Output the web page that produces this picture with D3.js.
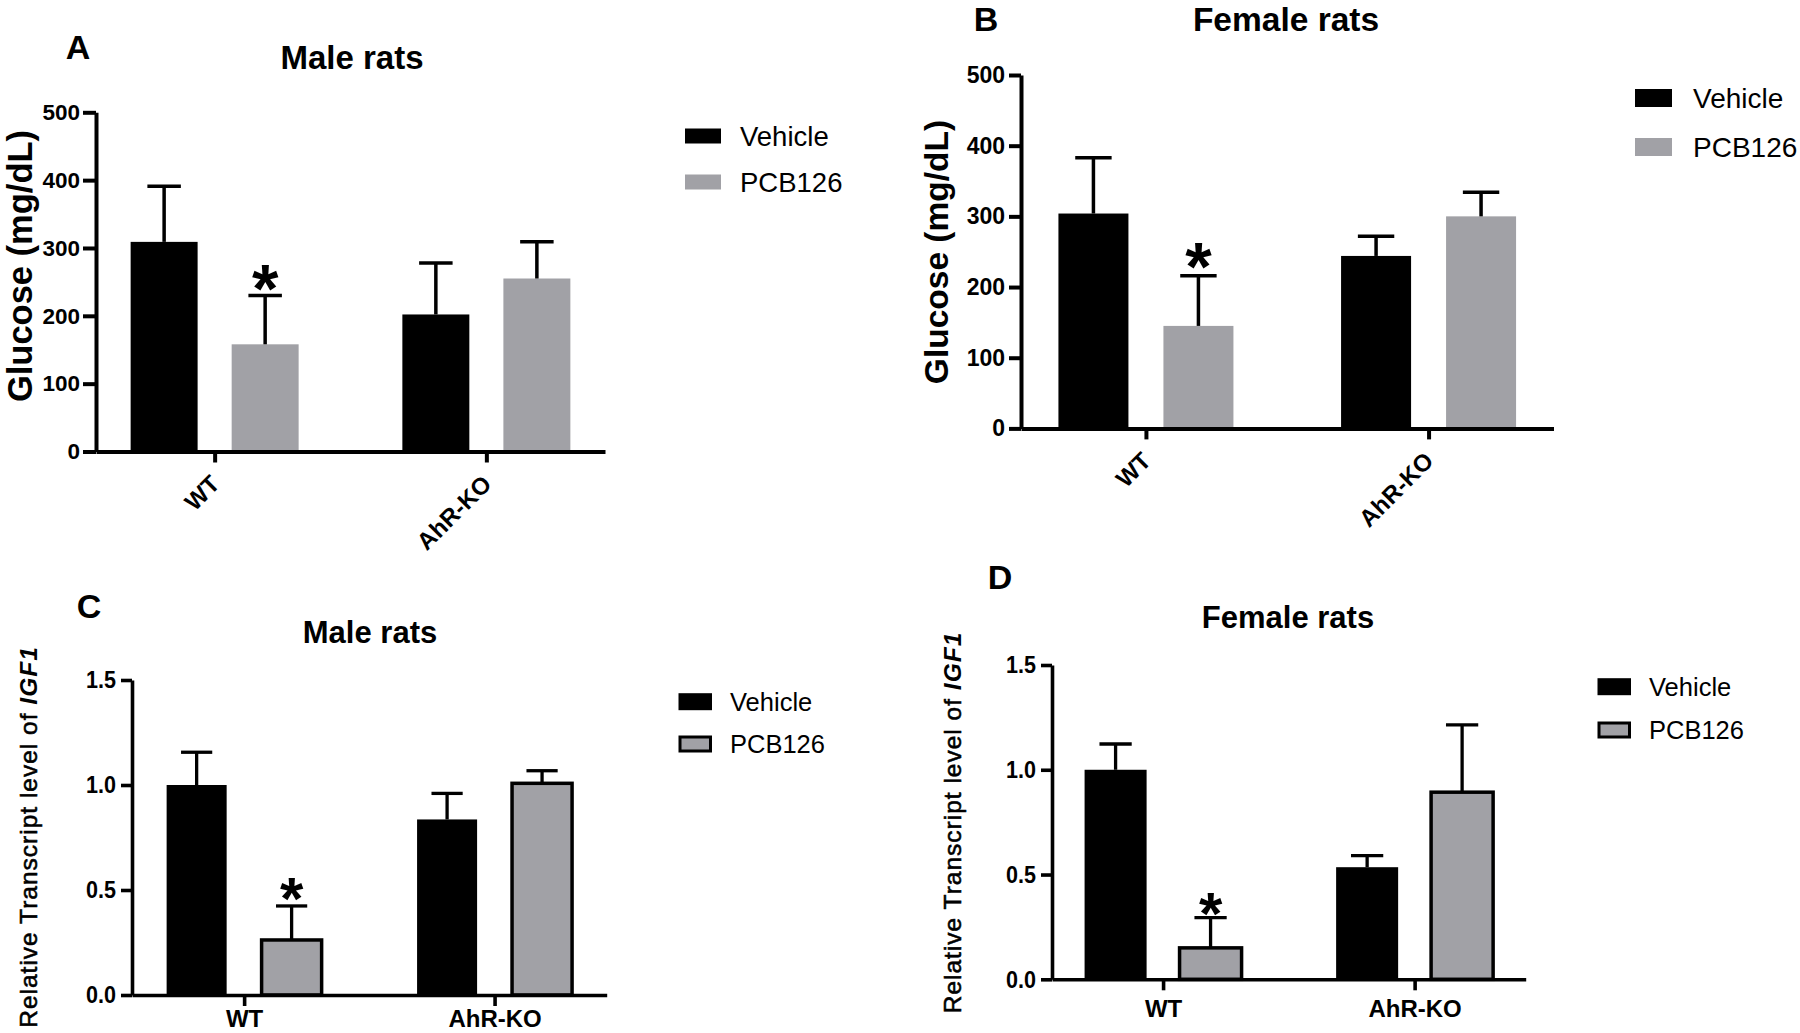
<!DOCTYPE html>
<html><head><meta charset="utf-8">
<script src="https://cdnjs.cloudflare.com/ajax/libs/d3/7.8.5/d3.min.js"></script>
<style>body{margin:0;background:#fff}svg{display:block}text{font-family:"Liberation Sans",Arial,sans-serif;fill:#000}</style>
</head><body><svg id="c" width="1800" height="1033"></svg>
<script>
// ---------- data ----------
const groups = ["WT", "AhR-KO"];
const series = ["Vehicle", "PCB126"];
const glucoseTicks = [0, 100, 200, 300, 400, 500];
const igf1Ticks = [0, 0.5, 1.0, 1.5];

// A: glucose, male
const maleGlucoseVehicle = [309, 202];
const maleGlucoseVehicleSD = [82, 76];
const maleGlucosePCB = [158, 255];
const maleGlucosePCBSD = [72, 54];
// B: glucose, female
const femaleGlucoseVehicle = [304, 244];
const femaleGlucoseVehicleSD = [79, 28];
const femaleGlucosePCB = [145, 300];
const femaleGlucosePCBSD = [71, 34];
// C: IGF1, male
const maleIGF1Vehicle = [1.0, 0.836];
const maleIGF1VehicleSD = [0.156, 0.124];
const maleIGF1PCB = [0.262, 1.008];
const maleIGF1PCBSD = [0.162, 0.06];
// D: IGF1, female
const femaleIGF1Vehicle = [1.0, 0.535];
const femaleIGF1VehicleSD = [0.123, 0.055];
const femaleIGF1PCB = [0.15, 0.893];
const femaleIGF1PCBSD = [0.144, 0.321];

const GRAY = "#a1a1a6";
const FONT = '"Liberation Sans",Arial,sans-serif';
const svg = d3.select("#c");

function drawPanel(cfg) {
  const g = svg.append("g");
  const y = d3.scaleLinear().domain([cfg.ticks[0], cfg.ticks[cfg.ticks.length - 1]]).range([cfg.y0, cfg.yTop]);
  const x0 = d3.scalePoint().domain(groups).range([cfg.axisX, cfg.xEnd]).padding(cfg.pad);
  const x1 = d3.scaleBand().domain(series).range([-cfg.barHalf, cfg.barHalf]).paddingInner(cfg.pi).paddingOuter(0);
  const bw = x1.bandwidth();

  // panel letter & title
  g.append("text").attr("x", cfg.letterPos[0]).attr("y", cfg.letterPos[1]).attr("text-anchor", "middle")
    .attr("font-weight", "bold").attr("font-size", cfg.letterSize).text(cfg.letter);
  g.append("text").attr("x", cfg.titlePos[0]).attr("y", cfg.titlePos[1]).attr("text-anchor", "middle")
    .attr("font-weight", "bold").attr("font-size", cfg.titleSize).text(cfg.title);

  // bars
  const rows = [];
  groups.forEach((grp, i) => {
    series.forEach((s, j) => {
      rows.push({grp, s, v: cfg.values[j][i], sd: cfg.sds[j][i]});
    });
  });
  g.selectAll("rect.bar").data(rows).enter().append("rect").attr("class", "bar")
    .attr("x", d => x0(d.grp) + x1(d.s))
    .attr("y", d => y(d.v))
    .attr("width", bw)
    .attr("height", d => cfg.y0 - y(d.v))
    .attr("fill", d => d.s === "Vehicle" ? "#000" : GRAY)
    .attr("stroke", d => (d.s === "PCB126" && cfg.outline) ? "#000" : "none")
    .attr("stroke-width", cfg.outline ? cfg.outlineW : 0);

  // error bars (upper only)
  const capHalf = bw * cfg.capFrac;
  rows.forEach(d => {
    const cx = x0(d.grp) + x1(d.s) + bw / 2;
    g.append("line").attr("x1", cx).attr("x2", cx).attr("y1", y(d.v)).attr("y2", y(d.v + d.sd))
      .attr("stroke", "#000").attr("stroke-width", cfg.errW);
    g.append("line").attr("x1", cx - capHalf).attr("x2", cx + capHalf).attr("y1", y(d.v + d.sd)).attr("y2", y(d.v + d.sd))
      .attr("stroke", "#000").attr("stroke-width", cfg.errW);
  });

  // significance asterisk on WT PCB126
  const ax = x0("WT") + x1("PCB126") + bw / 2;
  const ay = y(cfg.values[1][0] + cfg.sds[1][0]) - cfg.starGap;
  g.append("text").attr("x", ax).attr("y", ay + cfg.starSize * 0.55).attr("text-anchor", "middle")
    .attr("font-weight", "bold").attr("font-size", cfg.starSize).text("*");

  // y axis
  const ya = g.append("g").attr("transform", `translate(${cfg.axisX},0)`)
    .call(d3.axisLeft(y).tickValues(cfg.ticks).tickFormat(cfg.fmt).tickSize(cfg.tickLen).tickSizeOuter(0).tickPadding(cfg.tickPad));
  ya.select(".domain").attr("stroke-width", cfg.axisW).attr("stroke", "#000");
  ya.selectAll(".tick line").attr("stroke-width", cfg.axisW).attr("stroke", "#000");
  ya.selectAll(".tick text").attr("font-size", cfg.tickFont).attr("font-weight", "bold")
    .attr("font-family", FONT).attr("fill", "#000")
    .attr("x", -(cfg.tickLen + cfg.tickPad) / cfg.tickSX)
    .attr("transform", `scale(${cfg.tickSX},1)`);

  // x axis
  const xa = g.append("g").attr("transform", `translate(0,${cfg.y0})`)
    .call(d3.axisBottom(x0).tickSize(cfg.xTickLen).tickSizeOuter(0).tickPadding(8));
  xa.select(".domain").attr("stroke-width", cfg.axisW).attr("stroke", "#000");
  xa.selectAll(".tick line").attr("stroke-width", cfg.axisW).attr("stroke", "#000");
  xa.selectAll(".tick text").attr("font-size", cfg.xFont).attr("font-weight", "bold")
    .attr("font-family", FONT).attr("fill", "#000");
  if (cfg.rotated) {
    xa.selectAll(".tick text").attr("text-anchor", "end").attr("dy", null).attr("y", null)
      .attr("transform", `translate(6,${cfg.rotDy}) rotate(-45)`);
  } else {
    xa.selectAll(".tick text").attr("dy", null).attr("y", cfg.xLabelDy);
  }

  // y label
  const yl = g.append("text").attr("transform", `translate(${cfg.yLabelPos[0]},${cfg.yLabelPos[1]}) rotate(-90)`)
    .attr("text-anchor", "middle").attr("dy", "0.35em").attr("font-size", cfg.yLabelSize);
  if (cfg.igf) {
    yl.attr("letter-spacing", cfg.yLabelSpacing);
    yl.append("tspan").attr("stroke", "#000").attr("stroke-width", 0.55).text("Relative Transcript level of ");
    yl.append("tspan").attr("font-weight", "bold").attr("font-style", "italic").text("IGF1");
  } else {
    yl.attr("font-weight", "bold").text("Glucose (mg/dL)");
  }

  // legend
  series.forEach((s, j) => {
    const cy = cfg.legY[j];
    const r = g.append("rect").attr("x", cfg.legX).attr("y", cy - cfg.legH / 2).attr("width", cfg.legW).attr("height", cfg.legH)
      .attr("fill", s === "Vehicle" ? "#000" : GRAY);
    if (s === "PCB126" && cfg.outline) {
      r.attr("stroke", "#000").attr("stroke-width", 3)
        .attr("x", cfg.legX + 1.5).attr("y", cy - cfg.legH / 2 + 1.5).attr("width", cfg.legW - 3).attr("height", cfg.legH - 3);
    }
    g.append("text").attr("x", cfg.legTextX).attr("y", cy).attr("dy", "0.35em").attr("font-size", cfg.legFont).text(s);
  });
}

const fmtInt = d3.format("d");
const fmt1 = d3.format(".1f");

drawPanel({
  letter: "A", letterPos: [78, 58.5], letterSize: 34,
  title: "Male rats", titlePos: [352, 69], titleSize: 33,
  ticks: glucoseTicks, fmt: fmtInt, y0: 451.5, yTop: 112.3, axisX: 96, xEnd: 605, pad: 0.4366,
  barHalf: 84, pi: 0.337, values: [maleGlucoseVehicle, maleGlucosePCB], sds: [maleGlucoseVehicleSD, maleGlucosePCBSD],
  outline: false, outlineW: 0, capFrac: 0.25, errW: 3.5, starGap: 20.5, starSize: 68,
  tickLen: 13, xTickLen: 11, tickPad: 3, tickSX: 1, axisW: 4, tickFont: 22.5, xFont: 24, rotated: true, rotDy: 34,
  yLabelPos: [19.5, 266], yLabelSize: 34.5, igf: false,
  legX: 685, legW: 36, legH: 15, legY: [136, 182], legTextX: 740, legFont: 27.5
});

drawPanel({
  letter: "B", letterPos: [986, 31], letterSize: 34,
  title: "Female rats", titlePos: [1286, 30.5], titleSize: 33.5,
  ticks: glucoseTicks, fmt: fmtInt, y0: 428.4, yTop: 75, axisX: 1021, xEnd: 1553.5, pad: 0.442,
  barHalf: 87.5, pi: 0.3333, values: [femaleGlucoseVehicle, femaleGlucosePCB], sds: [femaleGlucoseVehicleSD, femaleGlucosePCBSD],
  outline: false, outlineW: 0, capFrac: 0.26, errW: 3.5, starGap: 23, starSize: 68,
  tickLen: 12, xTickLen: 11, tickPad: 4, tickSX: 1, axisW: 4, tickFont: 23, xFont: 24, rotated: true, rotDy: 34,
  yLabelPos: [936, 252], yLabelSize: 33.5, igf: false,
  legX: 1635, legW: 37, legH: 18, legY: [98, 147], legTextX: 1693, legFont: 28
});

drawPanel({
  letter: "C", letterPos: [89, 617.6], letterSize: 34,
  title: "Male rats", titlePos: [370, 643], titleSize: 31,
  ticks: igf1Ticks, fmt: fmt1, y0: 995, yTop: 680, axisX: 132, xEnd: 606.7, pad: 0.4477,
  barHalf: 77.5, pi: 0.368, values: [maleIGF1Vehicle, maleIGF1PCB], sds: [maleIGF1VehicleSD, maleIGF1PCBSD],
  outline: true, outlineW: 3.5, capFrac: 0.26, errW: 3.3, starGap: 20, starSize: 60,
  tickLen: 11, xTickLen: 11, tickPad: 5, tickSX: 0.88, axisW: 3.6, tickFont: 24.5, xFont: 24, rotated: false, xLabelDy: 32,
  yLabelPos: [28, 837], yLabelSize: 24.5, yLabelSpacing: 1, igf: true,
  legX: 678.5, legW: 33.5, legH: 17, legY: [701.7, 744], legTextX: 730, legFont: 25.5
});

drawPanel({
  letter: "D", letterPos: [1000, 589], letterSize: 34,
  title: "Female rats", titlePos: [1288, 628], titleSize: 31,
  ticks: igf1Ticks, fmt: fmt1, y0: 979.3, yTop: 665, axisX: 1052, xEnd: 1525.7, pad: 0.4416,
  barHalf: 78.5, pi: 0.347, values: [femaleIGF1Vehicle, femaleIGF1PCB], sds: [femaleIGF1VehicleSD, femaleIGF1PCBSD],
  outline: true, outlineW: 3.5, capFrac: 0.26, errW: 3.3, starGap: 17, starSize: 60,
  tickLen: 11, xTickLen: 11, tickPad: 5, tickSX: 0.88, axisW: 3.6, tickFont: 24.5, xFont: 24, rotated: false, xLabelDy: 38,
  yLabelPos: [952, 822.5], yLabelSize: 24.5, yLabelSpacing: 1, igf: true,
  legX: 1597.5, legW: 33.5, legH: 17, legY: [686.7, 730], legTextX: 1649, legFont: 25.5
});
</script></body></html>
